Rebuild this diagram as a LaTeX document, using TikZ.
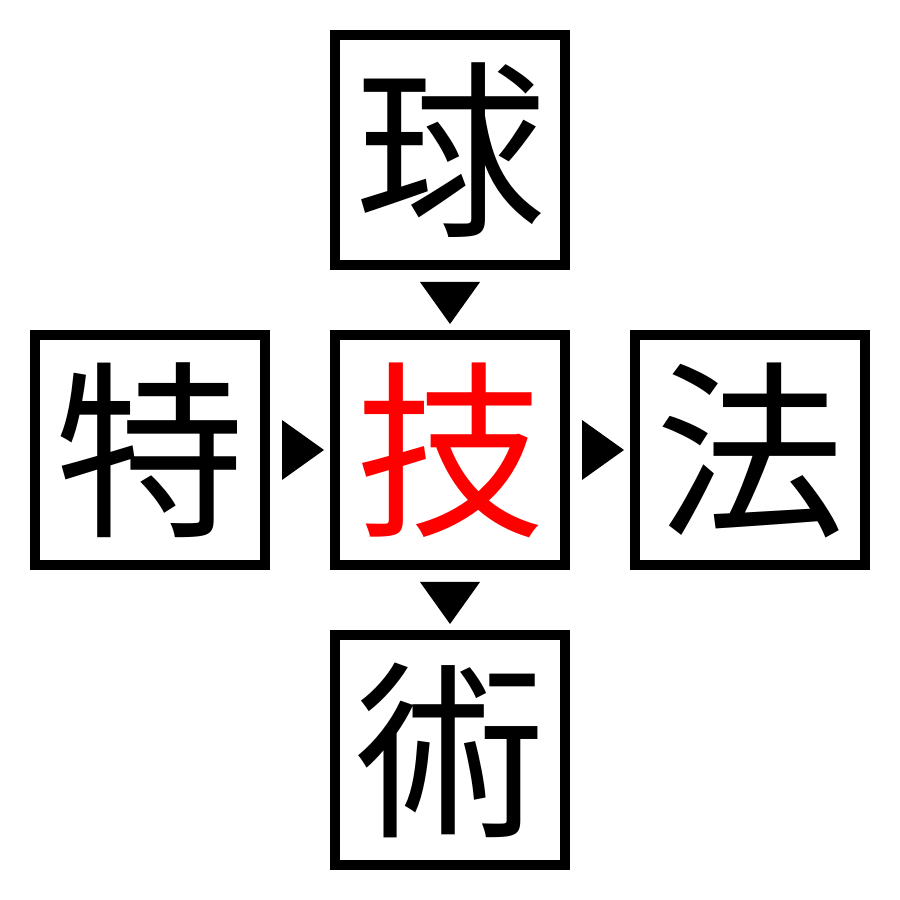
\documentclass[tikz,border=0pt]{standalone}
\usepackage{fontspec}
\newfontfamily\cjk{Noto Sans CJK JP}
\usetikzlibrary{calc}
\tikzset{kanji/.style={draw,line width=10pt,minimum size=230pt,inner sep=0pt,font=\cjk\fontsize{190}{190}\selectfont}}

\begin{document}
\begin{tikzpicture}[x=1pt,y=1pt]
\useasboundingbox (0,0) rectangle (900,900);
\node[kanji] (kyu) at (450,750){球};
\node[kanji] (toku) at (150,450){特};
\node[kanji,text=red] (gi) at (450,450){技};
\node[kanji] (ho) at (750,450){法};
\node[kanji] (jutsu) at (450,150){術};
\foreach \a/\b in {kyu/gi,gi/jutsu} {
\fill ($(\a.south)!0.5!(\b.north)$) ++(-30,18) -- ++(60,0) -- ++(-30,-42) -- cycle;
}
\foreach \a/\b in {toku/gi,gi/ho} {
\fill ($(\a.east)!0.5!(\b.west)$) ++(-18,30) -- ++(0,-60) -- ++(42,30) -- cycle;
}
\end{tikzpicture}
\end{document}
